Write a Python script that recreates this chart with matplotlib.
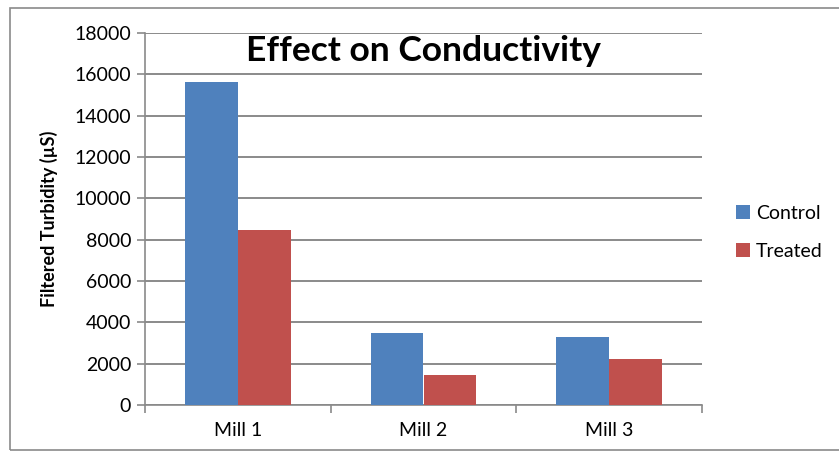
import matplotlib
matplotlib.use("Agg")
import matplotlib.pyplot as plt
import numpy as np
from matplotlib.patches import Rectangle

categories = ["Mill 1", "Mill 2", "Mill 3"]
control = [15650, 3500, 3300]
treated = [8450, 1450, 2250]
yticks = [0, 2000, 4000, 6000, 8000, 10000, 12000, 14000, 16000, 18000]

plt.rcParams['font.family'] = ['Lato', 'DejaVu Sans']

fig = plt.figure(figsize=8.39 * np.array([1, 452 / 839]), dpi=100)
fig.patches.append(Rectangle((10 / 839, 2 / 452), 1.2, 442 / 452, transform=fig.transFigure,
                             fill=False, edgecolor='#8a8a8a', linewidth=1.2))
ax = fig.add_axes([145 / 839, 1 - 405 / 452, (702 - 145) / 839, (405 - 33) / 452])

x = np.arange(len(categories))
w = 0.285
ax.bar(x - w / 2, control, w, color='#4F81BD', label='Control', zorder=3)
ax.bar(x + w / 2, treated, w, color='#C0504D', label='Treated', zorder=3)

ax.set_xlim(-0.5, 2.5)
ax.set_ylim(0, 18000)
ax.set_yticks(yticks)
ax.set_yticklabels([str(v) for v in yticks], fontsize=14)
ax.set_xticks(x)
ax.set_xticklabels(categories, fontsize=14)
ax.tick_params(axis='x', length=0, pad=12)
ax.set_xticks([-0.5, 0.5, 1.5, 2.5], minor=True)
ax.tick_params(axis='x', which='minor', length=6, color='#8a8a8a', width=1.2)
ax.tick_params(axis='y', length=6, color='#8a8a8a', width=1.2, pad=4)
ax.grid(axis='y', color='#8a8a8a', linewidth=1.4, zorder=0)
for s in ['top', 'right']:
    ax.spines[s].set_visible(False)
for s in ['left', 'bottom']:
    ax.spines[s].set_color('#8a8a8a')
    ax.spines[s].set_linewidth(1.2)

ax.set_ylabel('Filtered Turbidity (µS)', fontsize=13, fontweight='bold', labelpad=12)
ax.text(0.5, 0.995, 'Effect on Conductivity', transform=ax.transAxes, ha='center', va='top',
        fontsize=25.5, fontweight='bold', zorder=4)

leg = ax.legend(loc='center left', bbox_to_anchor=(1.03, 0.464), frameon=False, fontsize=14,
                handlelength=0.7, handleheight=0.7, handletextpad=0.3, labelspacing=1.1)

fig.savefig('out.png', dpi=100)
